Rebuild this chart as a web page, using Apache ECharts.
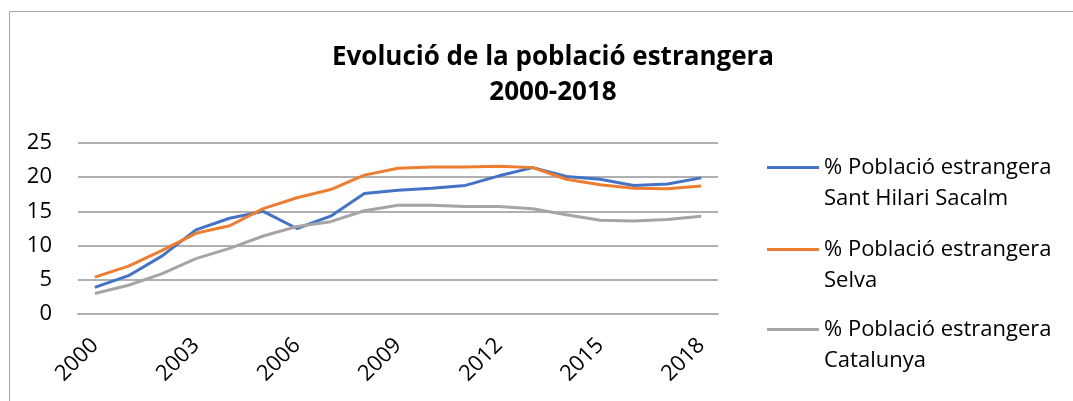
<!DOCTYPE html>
<html>
<head>
<meta charset="utf-8">
<script src="https://cdn.jsdelivr.net/npm/echarts@6/dist/echarts.min.js"></script>
<style>
  html, body { margin: 0; padding: 0; background: #fff; }
  #chart { width: 1073px; height: 401px; }
</style>
</head>
<body>
<div id="chart"></div>
<script>
const years = ['2000','2001','2002','2003','2004','2005','2006','2007','2008','2009',
  '2010','2011','2012','2013','2014','2015','2016','2017','2018'];
const santHilari = [3.9, 5.6, 8.5, 12.3, 14.0, 15.0, 12.5, 14.3, 17.6, 18.1, 18.4, 18.8, 20.2, 21.4, 20.1, 19.7, 18.8, 19.0, 19.9];
const selva = [5.4, 7.0, 9.3, 11.8, 12.9, 15.4, 17.0, 18.2, 20.3, 21.3, 21.5, 21.5, 21.6, 21.4, 19.7, 18.9, 18.4, 18.3, 18.7];
const catalunya = [3.0, 4.2, 5.9, 8.1, 9.6, 11.4, 12.8, 13.5, 15.1, 15.9, 15.9, 15.7, 15.7, 15.4, 14.5, 13.7, 13.6, 13.8, 14.3];
const yTicks = { min: 0, max: 25, interval: 5 };
const seriesNames = [
  '% Població estrangera\nSant Hilari Sacalm',
  '% Població estrangera\nSelva',
  '% Població estrangera\nCatalunya'
];
const colors = ['#4472C4', '#ED7D31', '#A5A5A5'];

const font = 'Open Sans';
const chart = echarts.init(document.getElementById('chart'));

// one legend per series so the icon sits on the first text line
const makeLegend = (i, top) => ({
  data: [seriesNames[i]],
  left: 762,
  top: top,
  orient: 'vertical',
  icon: 'rect',
  itemWidth: 52,
  itemHeight: 3,
  itemGap: 0,
  formatter: (name) => '\n' + name,
  textStyle: { fontFamily: font, fontSize: 22, color: '#000', lineHeight: 31 }
});

const option = {
  animation: false,
  color: colors,
  graphic: [{
    type: 'rect',
    shape: { x: 9.5, y: 11.5, width: 1200, height: 600 },
    style: { fill: 'none', stroke: '#a6a6a6', lineWidth: 1 },
    silent: true
  }],
  title: {
    text: 'Evolució de la població estrangera\n2000-2018',
    left: 548,
    top: 35,
    textAlign: 'center',
    textStyle: { fontFamily: font, fontSize: 26, fontWeight: 'bold', color: '#000', lineHeight: 35 }
  },
  legend: [makeLegend(0, 116), makeLegend(1, 198), makeLegend(2, 278)],
  grid: { left: 78, top: 143, width: 640, height: 171, containLabel: false },
  xAxis: {
    type: 'category',
    data: years,
    boundaryGap: true,
    axisLine: { lineStyle: { color: '#b0b0b0', width: 2 } },
    axisTick: { show: false },
    axisLabel: { interval: 2, rotate: 45, margin: 28, fontFamily: font, fontSize: 22, color: '#000' }
  },
  yAxis: {
    type: 'value',
    min: yTicks.min,
    max: yTicks.max,
    interval: yTicks.interval,
    axisLine: { show: false },
    axisTick: { show: false },
    splitLine: { lineStyle: { color: '#b0b0b0', width: 2 } },
    axisLabel: { margin: 26, fontFamily: font, fontSize: 22, color: '#000' }
  },
  series: [
    { name: seriesNames[0], type: 'line', data: santHilari, symbol: 'none', lineStyle: { width: 3 } },
    { name: seriesNames[1], type: 'line', data: selva, symbol: 'none', lineStyle: { width: 3 } },
    { name: seriesNames[2], type: 'line', data: catalunya, symbol: 'none', lineStyle: { width: 3 } }
  ]
};

chart.setOption(option);
</script>
</body>
</html>
